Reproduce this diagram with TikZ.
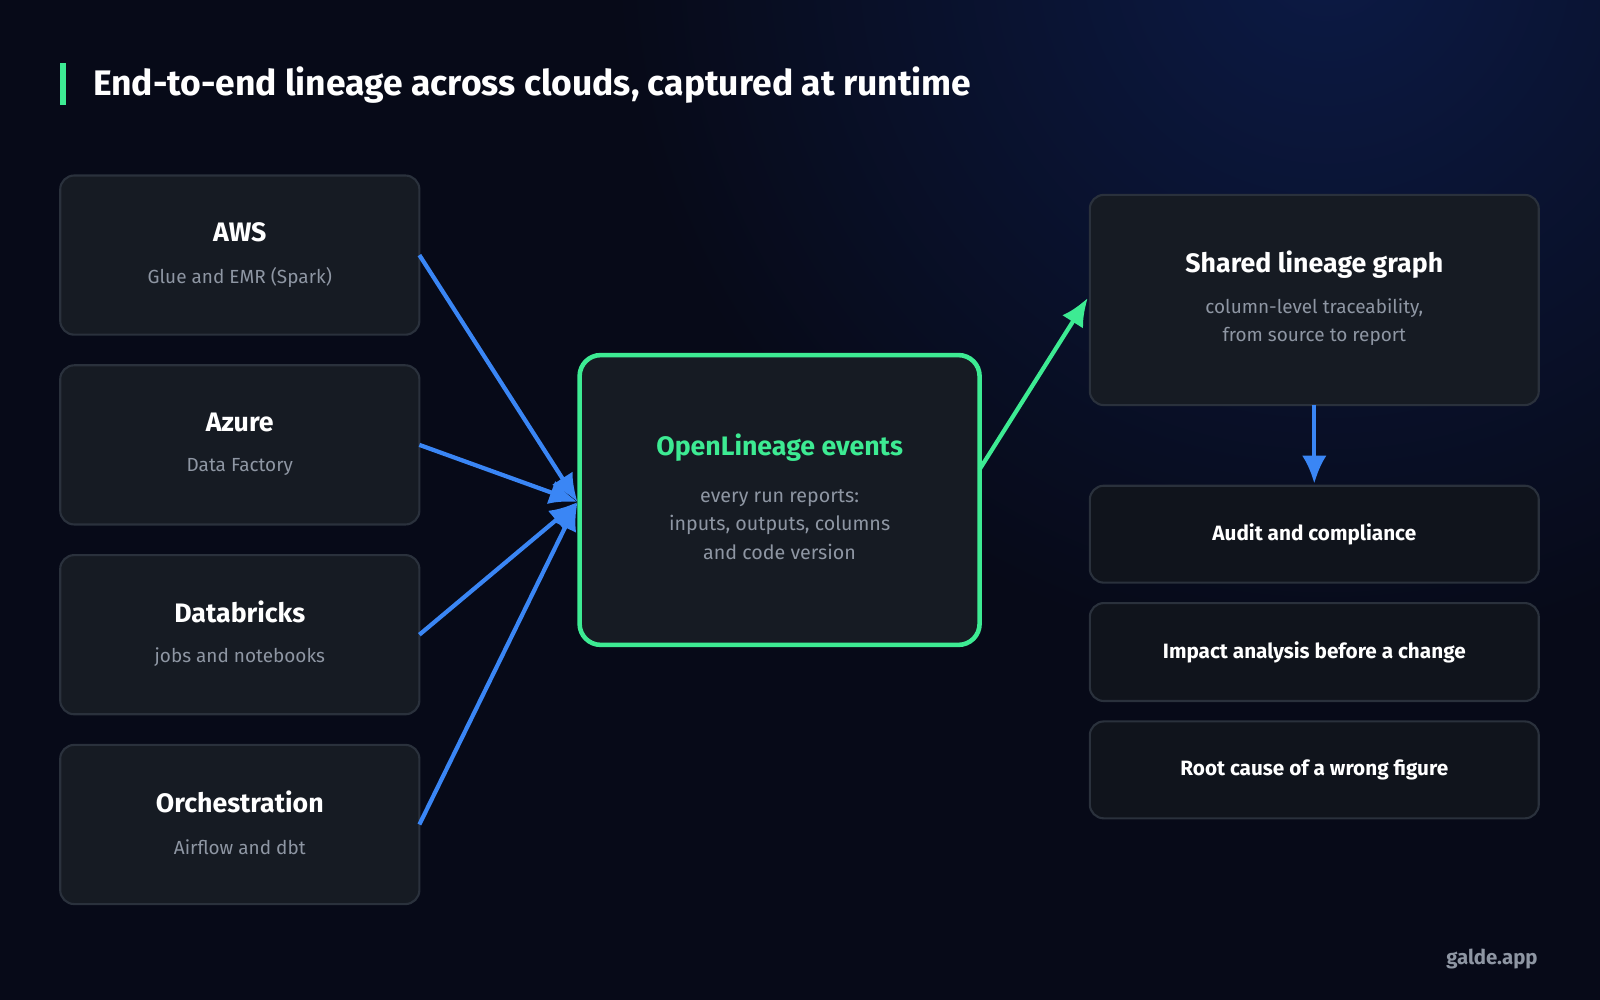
\documentclass[tikz,border=0pt]{standalone}
\usepackage{fontspec}
\setmainfont{Fira Sans}
\usetikzlibrary{arrows.meta,positioning}
\definecolor{bgdark}{HTML}{070A18}
\definecolor{glow}{HTML}{0C1A45}
\definecolor{cardfill}{HTML}{161B23}
\definecolor{listfill}{HTML}{10141C}
\definecolor{cardline}{HTML}{2A313C}
\definecolor{subgray}{HTML}{8E96A3}
\definecolor{accent}{HTML}{3DEB93}
\definecolor{flow}{HTML}{3A86F5}
\tikzset{
  card/.style={draw=cardline, line width=0.6pt, fill=cardfill, rounded corners=4pt},
  listcard/.style={draw=cardline, line width=0.6pt, fill=listfill, rounded corners=4pt},
  head/.style={text=white, font=\fontsize{7.6}{9}\selectfont\bfseries},
  sub/.style={text=subgray, font=\fontsize{5.4}{8}\selectfont, align=center},
  item/.style={text=white, font=\fontsize{5.9}{7}\selectfont\bfseries},
  feed/.style={-{Latex[length=8pt,width=7pt]}, flow, line width=1.2pt},
}
\begin{document}
\begin{tikzpicture}[x=0.010204cm, y=-0.010204cm]
\useasboundingbox (0,0) rectangle (1568,980);
\fill[bgdark] (0,0) rectangle (1568,980);
\begin{scope}
\clip (0,0) rectangle (1568,980);
\shade[inner color=glow, outer color=bgdark] (1300,-50) circle (700);
\end{scope}

% title
\fill[accent] (59,62) rectangle (65,103);
\node (title) [anchor=west, text=white, font=\fontsize{10.1}{12}\selectfont\bfseries] at (79,83) {End-to-end lineage across clouds, captured at runtime};

% sources
\draw[card] (59,172) rectangle (411,328);
\draw[card] (59,358) rectangle (411,514);
\draw[card] (59,544) rectangle (411,700);
\draw[card] (59,730) rectangle (411,886);
\coordinate (aws) at (411,250);
\coordinate (azure) at (411,436);
\coordinate (dbx) at (411,622);
\coordinate (orch) at (411,808);
\node (awsh) [head] at (235,228) {AWS};
\node (awss) [sub] at (235,272) {Glue and EMR (Spark)};
\node (azh) [head] at (235,414) {Azure};
\node (azs) [sub] at (235,458) {Data Factory};
\node (dbh) [head] at (235,600) {Databricks};
\node (dbs) [sub] at (235,644) {jobs and notebooks};
\node (orh) [head] at (235,786) {Orchestration};
\node (ors) [sub] at (235,830) {Airflow and dbt};

% events
\draw[fill=cardfill, draw=accent, line width=1.3pt, rounded corners=6pt] (568,348) rectangle (960,632);
\coordinate (evin) at (566,492);
\coordinate (evout) at (960,460);
\node (evh) [head, text=accent] at (764,439) {OpenLineage events};
\node (evs) [sub, font=\fontsize{5.6}{8.2}\selectfont] at (764,514) {every run reports:\\inputs, outputs, columns\\and code version};

% graph and uses
\draw[card] (1068,191) rectangle (1508,397);
\coordinate (grin) at (1066,292);
\coordinate (grout) at (1288,397);
\node (grh) [head] at (1288,259) {Shared lineage graph};
\node (grs) [sub] at (1288,316) {column-level traceability,\\from source to report};
\draw[listcard] (1068,476) rectangle (1508,571);
\coordinate (audit) at (1288,474);
\node (audith) [item] at (1288,524) {Audit and compliance};
\draw[listcard] (1068,591) rectangle (1508,687);
\node (impact) [item] at (1288,639) {Impact analysis before a change};
\draw[listcard] (1068,707) rectangle (1508,802);
\node (root) [item] at (1288,755) {Root cause of a wrong figure};

\node (brand) [anchor=east, text=subgray, font=\fontsize{5.8}{7}\selectfont\bfseries] at (1519,940) {galde.app};

% connectors
\draw[feed] (aws) -- (evin);
\draw[feed] (azure) -- (evin);
\draw[feed] (dbx) -- (evin);
\draw[feed] (orch) -- (evin);
\draw[feed, accent] (evout) -- (grin);
\draw[feed] (grout) -- (audit);
\end{tikzpicture}
\end{document}
